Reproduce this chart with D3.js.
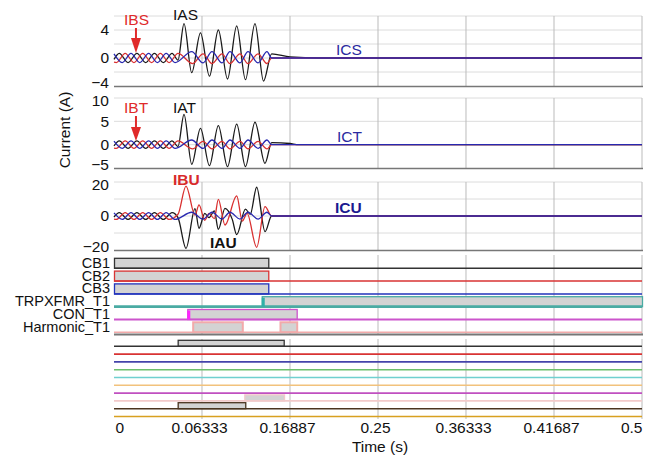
<!DOCTYPE html>
<html>
<head>
<meta charset="utf-8">
<script src="https://cdn.jsdelivr.net/npm/d3@7"></script>
<style>
  body { margin: 0; background: #fff; }
  text { font-family: "Liberation Sans", Arial, sans-serif; }
</style>
</head>
<body>
<div id="chart"></div>
<script>
// x ticks (evenly spaced gridlines, labels as printed on the chart)
var xTickValues = [0, 0.08333, 0.16667, 0.25, 0.33333, 0.41667, 0.5];
var xTickLabels = ["0", "0.06333", "0.16887", "0.25", "0.36333", "0.41687", "0.5"];

// current channels, [time (s), current (A)]
var iaS = [[0,-0.2],[0.005,0.65],[0.0133,-0.65],[0.0217,0.65],[0.03,-0.65],[0.0383,0.65],[0.0467,-0.65],[0.055,0.65],[0.0606,-0.3],[0.0663,4.9],[0.0736,-2.1],[0.0819,3.6],[0.0904,-2.6],[0.0988,4.0],[0.1075,-3.0],[0.1162,4.6],[0.1245,-3.1],[0.1335,4.9],[0.1416,-3.3],[0.1493,0.6],[0.1667,0.15],[0.1951,0],[0.5,0]];
var ibS = [[0,-0.6],[0.0022,-0.65],[0.0106,0.65],[0.0189,-0.65],[0.0272,0.65],[0.0356,-0.65],[0.0439,0.65],[0.0522,-0.65],[0.0606,0.65],[0.0745,-0.8],[0.0843,0.6],[0.0928,-0.8],[0.1023,0.6],[0.1098,-0.8],[0.1193,0.6],[0.1269,-0.8],[0.1364,0.6],[0.1449,-0.8],[0.1493,0],[0.5,0]];
var icS = [[0,0.6],[0.0078,-0.65],[0.0161,0.65],[0.0244,-0.65],[0.0328,0.65],[0.0411,-0.65],[0.0494,0.65],[0.0578,-0.65],[0.0736,0.9],[0.0843,-0.7],[0.0928,0.9],[0.1023,-0.7],[0.1098,0.9],[0.1193,-0.7],[0.1269,0.9],[0.1364,-0.7],[0.1449,0.9],[0.1493,0],[0.5,0]];

var iaT = [[0,-0.25],[0.005,0.8],[0.0133,-0.8],[0.0217,0.8],[0.03,-0.8],[0.0383,0.8],[0.0467,-0.8],[0.055,0.8],[0.0606,-0.4],[0.0663,6.5],[0.0736,-4.2],[0.0819,3.5],[0.0904,-4.5],[0.0988,4.1],[0.1075,-4.7],[0.1162,4.4],[0.1245,-4.7],[0.1335,4.8],[0.143,-4.0],[0.1493,0.45],[0.1667,0.25],[0.175,0],[0.5,0]];
var ibT = [[0,-0.75],[0.0022,-0.8],[0.0106,0.8],[0.0189,-0.8],[0.0272,0.8],[0.0356,-0.8],[0.0439,0.8],[0.0522,-0.8],[0.0606,0.8],[0.0745,-0.9],[0.0843,0.7],[0.0928,-0.9],[0.1023,0.7],[0.1098,-0.9],[0.1193,0.7],[0.1269,-0.9],[0.1364,0.7],[0.1449,-0.9],[0.1493,0],[0.5,0]];
var icT = [[0,0.75],[0.0078,-0.8],[0.0161,0.8],[0.0244,-0.8],[0.0328,0.8],[0.0411,-0.8],[0.0494,0.8],[0.0578,-0.8],[0.0736,1.0],[0.0843,-0.8],[0.0928,1.0],[0.1023,-0.8],[0.1098,1.0],[0.1193,-0.8],[0.1269,1.0],[0.1364,-0.8],[0.1449,1.0],[0.1493,0],[0.5,0]];

var iaU = [[0,-0.6],[0.005,2],[0.0133,-2],[0.0217,2],[0.03,-2],[0.0383,2],[0.0467,-2],[0.055,2],[0.0606,-1],[0.0682,-19],[0.0767,4.3],[0.0805,-7.2],[0.086,1.6],[0.09,-1],[0.095,3],[0.0988,-7.8],[0.1051,4.5],[0.112,-2],[0.1162,-11],[0.1245,4],[0.129,1],[0.1351,16.9],[0.143,-9.2],[0.1493,0],[0.5,0]];
var ibU = [[0,-1.8],[0.0022,-2],[0.0106,2],[0.0189,-2],[0.0272,2],[0.0356,-2],[0.0439,2],[0.0522,-2],[0.0606,1],[0.0682,17.6],[0.0767,0.5],[0.0805,6.5],[0.086,-2.5],[0.09,1.5],[0.095,-1.5],[0.0988,9.8],[0.1051,-5.3],[0.1162,11.8],[0.1215,-3],[0.126,1.5],[0.1351,-18.4],[0.143,5.5],[0.1493,0],[0.5,0]];
var icU = [[0,1.8],[0.0078,-2],[0.0161,2],[0.0244,-2],[0.0328,2],[0.0411,-2],[0.0494,2],[0.0578,-2],[0.0736,2.2],[0.0843,-1.8],[0.0928,2.2],[0.1023,-1.8],[0.1098,2.2],[0.1193,-1.8],[0.1269,2.2],[0.1364,-1.8],[0.1449,2.2],[0.1493,0],[0.5,0]];

// digital channels: [on, off] intervals in seconds
var digNames1 = ["CB1", "CB2", "CB3", "TRPXFMR_T1", "CON_T1", "Harmonic_T1"];
var digOn1 = [[[0, 0.1461]], [[0, 0.1461]], [[0, 0.1461]], [[0.1399, 0.5]], [[0.0694, 0.173]], [[0.0745, 0.1215], [0.1572, 0.173]]];
var digNames2 = ["D1", "D2", "D3", "D4", "D5", "D6", "D7", "D8", "D9", "D10"];
var digOn2 = [[[0.0603, 0.1607]], [], [], [], [], [], [], [[0.1234, 0.161]], [[0.0603, 0.1243]], []];

var waveColors = ["#1a1a1a", "#d93030", "#2828b0"];
var digColors1 = ["#333", "#d83333", "#2233bb", "#4aaba3", "#cc55cc", "#f2aaaa"];
var digColors2 = ["#333", "#d83333", "#4444aa", "#6cbf6c", "#70d0d0", "#f2c27c", "#c050c0", "#f2caca", "#4a3520", "#d8a020"];

var svg = d3.select('#chart')
  .append('svg')
  .attr('width', 647)
  .attr('height', 457);

var x = d3.scaleLinear().domain([0, 0.5]).range([114, 642]);

function vGrid(top, bottom) {
  svg.append('g')
    .selectAll('line')
    .data(xTickValues.slice(1))
    .enter()
    .append('line')
    .attr('x1', d => x(d)).attr('x2', d => x(d))
    .attr('y1', top).attr('y2', bottom)
    .attr('stroke', '#bbb')
    .attr('stroke-width', 1);
}

var panels = [
  { series: [iaS, ibS, icS], top: 16, bottom: 86, domain: [-4, 6], ticks: [-4, 0, 4], grid: [-2, 0, 2, 4, 6] },
  { series: [iaT, ibT, icT], top: 98, bottom: 168, domain: [-5, 10], ticks: [-5, 0, 5, 10], grid: [0, 5, 10] },
  { series: [iaU, ibU, icU], top: 182, bottom: 250, domain: [-20, 20], ticks: [-20, 0, 20], grid: [-10, 0, 10, 20] }
];

panels.forEach(function (p) {
  var y = d3.scaleLinear().domain(p.domain).range([p.bottom, p.top]);

  svg.append('g')
    .selectAll('line')
    .data(p.grid)
    .enter()
    .append('line')
    .attr('x1', 114).attr('x2', 642)
    .attr('y1', d => y(d)).attr('y2', d => y(d))
    .attr('stroke', '#dcdcdc');

  vGrid(p.top, p.bottom);

  svg.append('line')
    .attr('x1', 114).attr('x2', 643)
    .attr('y1', p.bottom + 0.5).attr('y2', p.bottom + 0.5)
    .attr('stroke', '#777')
    .attr('stroke-width', 1.5);

  var line = d3.line()
    .x(d => x(d[0]))
    .y(d => y(d[1]))
    .curve(d3.curveMonotoneX);

  p.series.forEach(function (s, i) {
    svg.append('path')
      .attr('d', line(s))
      .attr('fill', 'none')
      .attr('stroke', waveColors[i])
      .attr('stroke-width', 1.3);
  });

  var ax = svg.append('g')
    .attr('transform', 'translate(114,0)')
    .call(d3.axisLeft(y).tickValues(p.ticks).tickSize(0).tickPadding(5));
  ax.select('.domain').remove();
  ax.attr('font-size', 15.5).attr('font-family', '"Liberation Sans", Arial, sans-serif');
  ax.selectAll('.tick text')
    .attr('fill', '#111')
    .attr('y', function (d) {
      var c = y(d);
      return Math.max(p.top + 3, Math.min(p.bottom - 3, c)) - c;
    });
});

// channel labels on current panels
var labels = [
  { t: "IBS", x: 124, y: 25, c: "#e02a2a", w: "normal" },
  { t: "IAS", x: 173, y: 20, c: "#111", w: "normal" },
  { t: "ICS", x: 336, y: 55, c: "#2a2aa0", w: "normal" },
  { t: "IBT", x: 124, y: 113, c: "#e02a2a", w: "normal" },
  { t: "IAT", x: 173, y: 113, c: "#111", w: "normal" },
  { t: "ICT", x: 337, y: 142, c: "#2a2aa0", w: "normal" },
  { t: "IBU", x: 173, y: 185, c: "#d82a2a", w: "bold" },
  { t: "IAU", x: 210, y: 248, c: "#111", w: "bold" },
  { t: "ICU", x: 335, y: 213, c: "#1a1a90", w: "bold" }
];
svg.append('g')
  .selectAll('text')
  .data(labels)
  .enter()
  .append('text')
  .attr('x', d => d.x)
  .attr('y', d => d.y)
  .attr('fill', d => d.c)
  .attr('font-size', 15.5)
  .attr('font-weight', d => d.w)
  .text(d => d.t);

// red arrows marking IBS / IBT
function arrow(px, y0, y1, y2) {
  svg.append('line')
    .attr('x1', px).attr('x2', px)
    .attr('y1', y0).attr('y2', y1 + 1)
    .attr('stroke', '#e02a2a')
    .attr('stroke-width', 2);
  svg.append('path')
    .attr('d', 'M' + (px - 5) + ',' + y1 + 'L' + (px + 5) + ',' + y1 + 'L' + px + ',' + y2 + 'Z')
    .attr('fill', '#e02a2a');
}
arrow(x(0.0208), 28, 38, 53);
arrow(x(0.0208), 116, 127, 141);

// y axis title
svg.append('text')
  .attr('transform', 'translate(70,130) rotate(-90)')
  .attr('text-anchor', 'middle')
  .attr('font-size', 15.5)
  .attr('fill', '#111')
  .text('Current (A)');

// digital panels
function digital(names, ons, colors, top, bottom, r0, r1, boxH, widths) {
  vGrid(top, bottom);
  var yd = d3.scalePoint().domain(names).range([r0, r1]);
  names.forEach(function (n, i) {
    var b = yd(n);
    ons[i].forEach(function (iv) {
      svg.append('rect')
        .attr('x', x(iv[0]) + 0.5)
        .attr('y', b - boxH)
        .attr('width', x(iv[1]) - x(iv[0]))
        .attr('height', boxH)
        .attr('fill', '#d3d3d3')
        .attr('stroke', colors[i])
        .attr('stroke-width', i === 5 && widths ? 2 : 1.3);
    });
    svg.append('line')
      .attr('x1', 114).attr('x2', 642)
      .attr('y1', b).attr('y2', b)
      .attr('stroke', colors[i])
      .attr('stroke-width', widths ? widths[i] : 1.6);
  });
  return yd;
}

var yd1 = digital(digNames1, digOn1, digColors1, 255, 334, 268.3, 332.3, 10, [1.5, 1.5, 1.5, 2.8, 2.2, 1.5]);
// thick left edges of TRPXFMR_T1 and CON_T1
svg.append('rect').attr('x', x(0.1399)).attr('y', yd1('TRPXFMR_T1') - 9).attr('width', 3).attr('height', 9).attr('fill', '#2fb0a8');
svg.append('rect').attr('x', x(0.0694)).attr('y', yd1('CON_T1') - 9).attr('width', 3).attr('height', 9).attr('fill', '#ff22ff');

svg.append('line')
  .attr('x1', 114).attr('x2', 643)
  .attr('y1', 334.5).attr('y2', 334.5)
  .attr('stroke', '#777')
  .attr('stroke-width', 1.8);

svg.append('g')
  .selectAll('text')
  .data(digNames1)
  .enter()
  .append('text')
  .attr('x', 110)
  .attr('y', d => yd1(d) - 0.5)
  .attr('text-anchor', 'end')
  .attr('font-size', 14.5)
  .attr('fill', '#111')
  .text(d => d);

digital(digNames2, digOn2, digColors2, 339, 419, 346.3, 416.5, 6, null);

// x axis
var xa = svg.append('g')
  .attr('transform', 'translate(0,419)')
  .call(d3.axisBottom(x).tickValues(xTickValues).tickSize(0).tickPadding(3)
    .tickFormat((d, i) => xTickLabels[i]));
xa.select('.domain').remove();
xa.attr('font-size', 15.5).attr('font-family', '"Liberation Sans", Arial, sans-serif');
xa.selectAll('.tick text')
  .attr('fill', '#111')
  .attr('text-anchor', (d, i) => i === 0 ? 'start' : (i === xTickValues.length - 1 ? 'end' : 'middle'))
  .attr('dx', (d, i) => i === 0 ? 1 : (i === xTickValues.length - 1 ? 0 : -3));

svg.append('text')
  .attr('x', 380)
  .attr('y', 452)
  .attr('text-anchor', 'middle')
  .attr('font-size', 15.5)
  .attr('fill', '#111')
  .text('Time (s)');
</script>
</body>
</html>
